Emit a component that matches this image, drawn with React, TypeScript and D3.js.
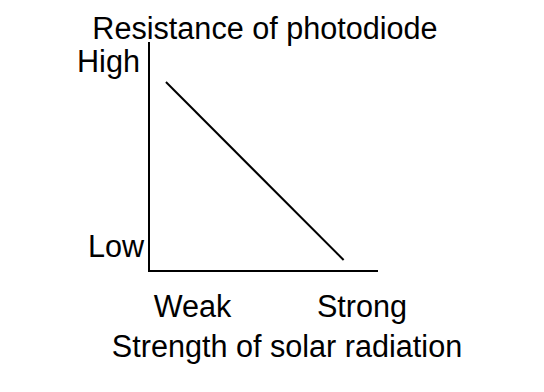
import React, { useEffect, useRef } from 'react';
import * as d3 from 'd3';

// values on a 0..10 scale for both axes
const strength = [0.74, 8.5];
const resistance = [8.25, 0.48];
const xCategories = ['Weak', 'Strong'];
const xCategoryPos = [1.9, 9.3];
const yCategories = ['High', 'Low'];
const yCategoryPos = [9.15, 1.08];
const yCategoryLeft = [77, 88];
const title = 'Resistance of photodiode';
const xTitle = 'Strength of solar radiation';

const W = 544;
const H = 392;
const FONT = 'Liberation Sans, Arial, sans-serif';
const FS = 30.6;

const App: React.FC = () => {
  const svgRef = useRef<SVGSVGElement>(null);

  useEffect(() => {
    if (!svgRef.current) return;
    const svg = d3.select(svgRef.current);
    svg.selectAll('*').remove();

    const x = d3.scaleLinear().domain([0, 10]).range([149, 378]);
    const y = d3.scaleLinear().domain([0, 10]).range([271, 42]);

    svg.append('rect').attr('width', W).attr('height', H).attr('fill', '#fff');

    // axes
    svg.append('line')
      .attr('x1', x(0)).attr('y1', y(10))
      .attr('x2', x(0)).attr('y2', y(0) + 1)
      .attr('stroke', '#000').attr('stroke-width', 2);
    svg.append('line')
      .attr('x1', x(0) - 1).attr('y1', y(0))
      .attr('x2', x(10)).attr('y2', y(0))
      .attr('stroke', '#000').attr('stroke-width', 2);

    // data line
    const pts = strength.map((s, i) => [s, resistance[i]] as [number, number]);
    const line = d3.line<[number, number]>().x(d => x(d[0])).y(d => y(d[1]));
    svg.append('path')
      .attr('d', line(pts) || '')
      .attr('fill', 'none')
      .attr('stroke', '#000')
      .attr('stroke-width', 2);

    const txt = (s: string, tx: number, ty: number, anchor: string) =>
      svg.append('text')
        .attr('x', tx).attr('y', ty)
        .attr('text-anchor', anchor)
        .attr('font-family', FONT)
        .attr('font-size', FS)
        .attr('fill', '#000')
        .text(s);

    txt(title, 265, 39, 'middle');
    yCategories.forEach((c, i) => txt(c, yCategoryLeft[i], y(yCategoryPos[i]) + 11, 'start'));
    xCategories.forEach((c, i) => txt(c, x(xCategoryPos[i]), 316.5, 'middle'));
    txt(xTitle, 287, 356.5, 'middle');
  }, []);

  return (
    <svg ref={svgRef} width={W} height={H}
      style={{ position: 'absolute', left: 0, top: 0, display: 'block' }} />
  );
};

export default App;
